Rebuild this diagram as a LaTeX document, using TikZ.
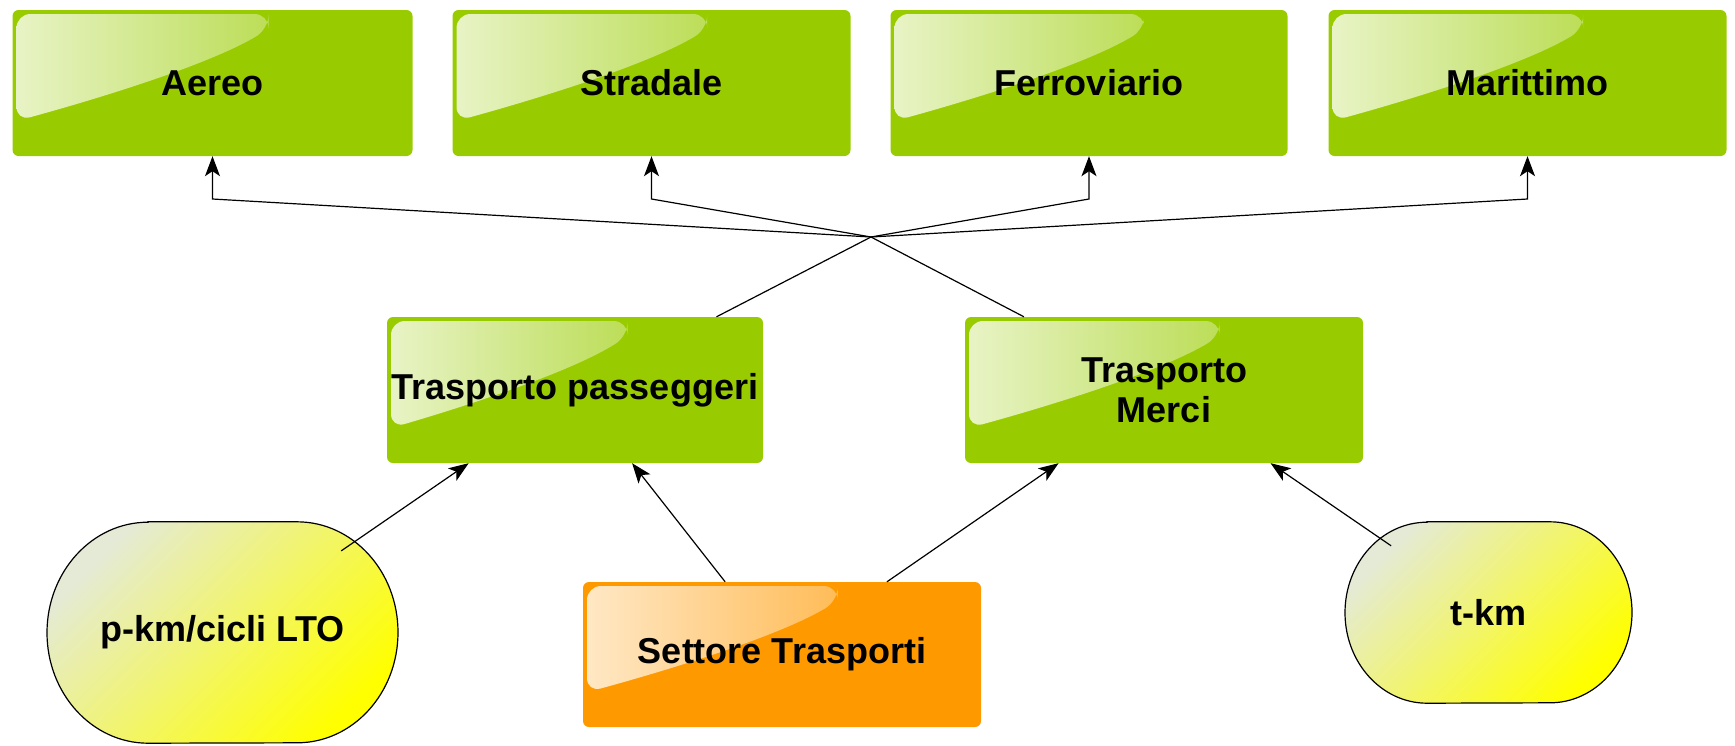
\documentclass[tikz,border=0pt]{standalone}
\usepackage{fontspec}
\setmainfont{Liberation Sans}
\usetikzlibrary{arrows.meta,shapes.geometric,backgrounds,calc}
\definecolor{boxgreen}{RGB}{153,204,0}
\definecolor{boxorange}{RGB}{255,153,0}
\definecolor{pilllight}{RGB}{228,234,214}
\definecolor{pillyellow}{RGB}{255,255,0}
\tikzset{
  gloss/.style={path picture={
    \shade[left color=white!78!#1, right color=white!10!#1, rounded corners=14pt]
      let \p1=(path picture bounding box.north west),
          \p2=(path picture bounding box.south east),
          \n1={\x2-\x1}, \n2={\y1-\y2} in
      ({\x1+4pt},{\y1-4pt}) -- ({\x1+0.64*\n1},{\y1-4pt}) -- ({\x1+0.64*\n1},{\y1-0.13*\n2})
      .. controls ({\x1+0.5*\n1},{\y1-0.36*\n2}) and ({\x1+0.25*\n1},{\y1-0.58*\n2}) .. ({\x1+4pt},{\y1-0.76*\n2}) -- cycle;
  }},
  gbox/.style={rectangle, rounded corners=6pt, fill=#1, gloss=#1, inner sep=0pt,
    align=center, font=\fontsize{36}{40}\selectfont\bfseries, minimum height=146pt},
  pill/.style={ellipse, inner sep=0pt, font=\fontsize{36}{40}\selectfont\bfseries},
  pillbg/.style={draw=black, line width=1.2pt,
    top color=pilllight, bottom color=pillyellow, shading angle=45},
  conn/.style={line width=1.2pt, black},
  arr/.style={conn, -{Stealth[length=20pt,width=15pt,inset=5pt]}},
}
\begin{document}
\begin{tikzpicture}[x=1pt,y=-1pt]
\useasboundingbox (0,0) rectangle (1735,745);
% top boxes
\node[gbox=boxgreen, minimum width=400pt] (aereo) at (212.5,83) {Aereo};
\node[gbox=boxgreen, minimum width=398pt] (stradale) at (651.5,83) {Stradale};
\node[gbox=boxgreen, minimum width=397pt] (ferro) at (1089,83) {Ferroviario};
\node[gbox=boxgreen, minimum width=398pt] (marit) at (1527.5,83) {Marittimo};
% middle boxes
\node[gbox=boxgreen, minimum width=376pt] (pass) at (575,390) {Trasporto passeggeri};
\node[gbox=boxgreen, minimum width=398pt] (merci) at (1164,390) {Trasporto\\Merci};
% bottom
\node[gbox=boxorange, minimum width=398pt, minimum height=145pt] (settore) at (782,654.5) {Settore Trasporti};
\node[pill, minimum width=351pt, minimum height=221pt] (pkm) at (222.5,632.5) {p-km/cicli LTO};
\node[pill, minimum width=287pt, minimum height=181pt] (tkm) at (1488.5,612.5) {t-km};
\begin{scope}[on background layer]
  \shade[pillbg] ($(pkm.north)+(-74.5,0)$) -- ($(pkm.north)+(74.5,0)$)
     arc[start angle=90, end angle=-90, x radius=101pt, y radius=110.5pt]
     -- ($(pkm.south)+(-74.5,0)$)
     arc[start angle=270, end angle=90, x radius=101pt, y radius=110.5pt] -- cycle;
  \shade[pillbg] ($(tkm.north)+(-61.5,0)$) -- ($(tkm.north)+(61.5,0)$)
     arc[start angle=90, end angle=-90, x radius=82pt, y radius=90.5pt]
     -- ($(tkm.south)+(-61.5,0)$)
     arc[start angle=270, end angle=90, x radius=82pt, y radius=90.5pt] -- cycle;
\end{scope}
% connectors
\coordinate (hub) at (871,237);
\coordinate (bend) at (871,199);
\draw[conn] (pass) -- (hub);
\draw[conn] (merci) -- (hub);
\draw[arr] (hub) -- (bend -| aereo.south) -- (aereo.south);
\draw[arr] (hub) -- (bend -| stradale.south) -- (stradale.south);
\draw[arr] (hub) -- (bend -| ferro.south) -- (ferro.south);
\draw[arr] (hub) -- (bend -| marit.south) -- (marit.south);
\draw[arr] (pkm) -- (pass);
\draw[arr] (settore) -- (pass);
\draw[arr] (settore) -- (merci);
\draw[arr] (tkm) -- (merci);
\end{tikzpicture}
\end{document}
